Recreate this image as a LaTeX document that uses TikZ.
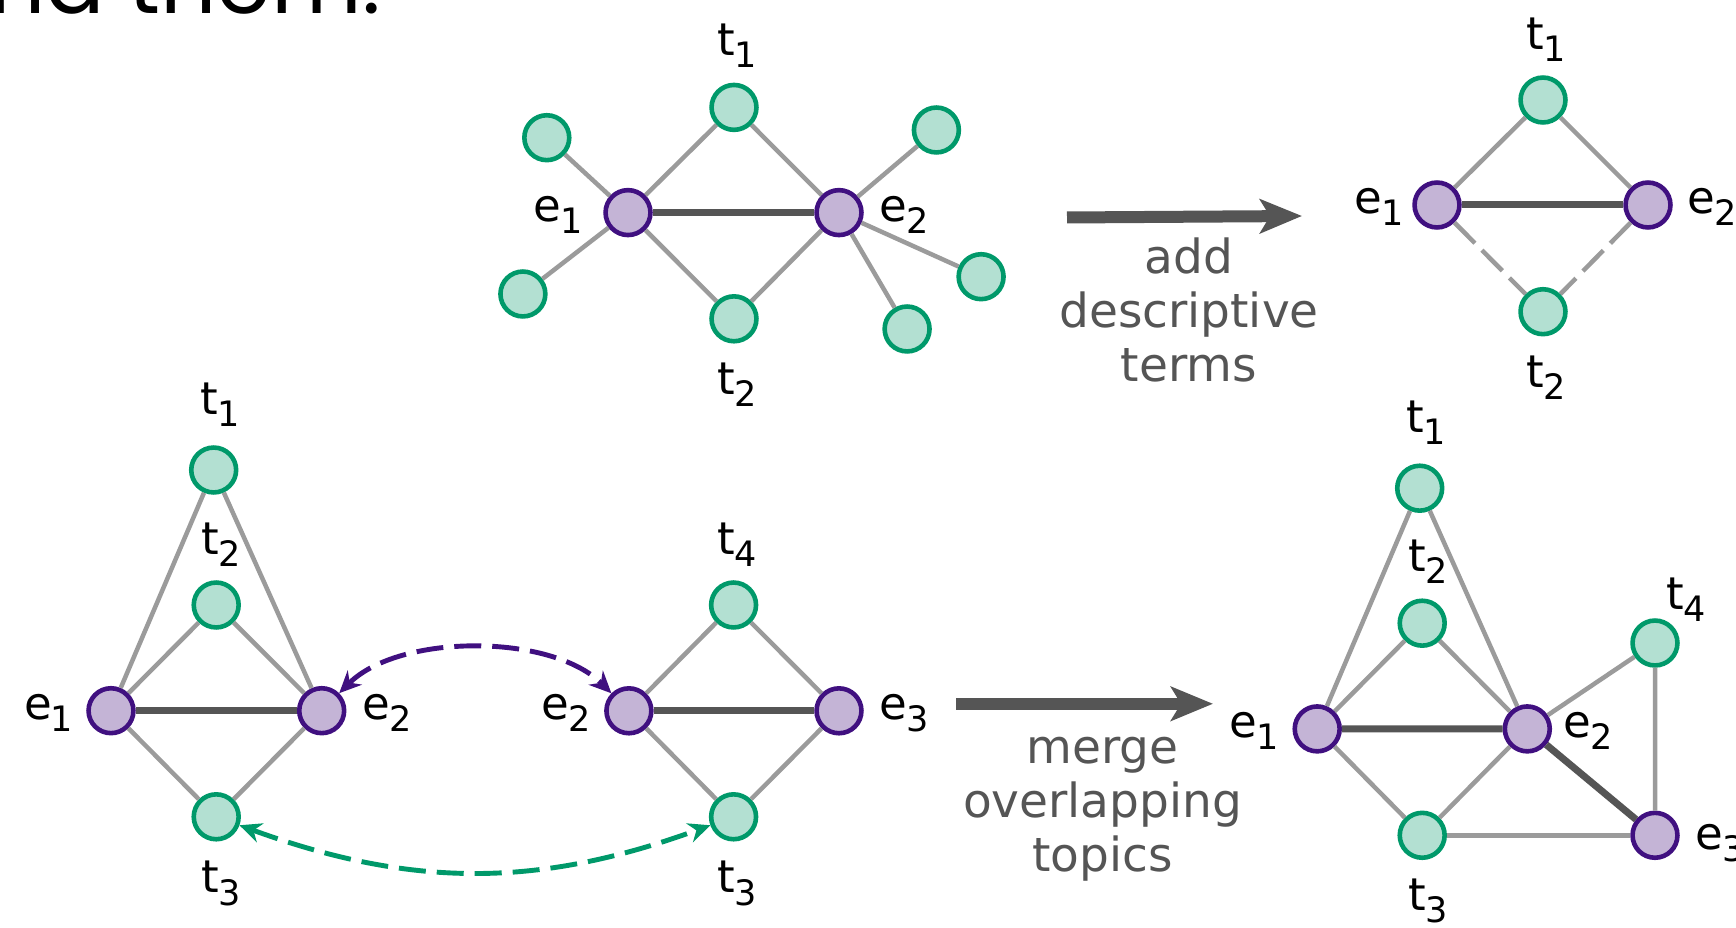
\documentclass[tikz,border=0pt]{standalone}
\usepackage{fontspec}
\setmainfont{DejaVu Sans}
\newfontfamily\slidefont{Poppins}
\usepackage{tikz}
\usetikzlibrary{arrows.meta, positioning}
\definecolor{termfill}{RGB}{179, 224, 210}
\definecolor{termline}{RGB}{0, 153, 106}
\definecolor{entfill}{RGB}{196, 180, 214}
\definecolor{entline}{RGB}{64, 16, 128}
\definecolor{edgegray}{RGB}{155, 155, 155}
\definecolor{edgedark}{RGB}{85, 85, 85}
\definecolor{captiongray}{RGB}{85, 85, 85}

% letter with a lowered index, e.g. t_1
\newcommand{\idx}[2]{#1\kern-0.5pt\raisebox{-6pt}{\fontsize{17.5}{17.5}\selectfont #2}}

\tikzset{
    term/.style={circle, draw=termline, fill=termfill, line width=2.3pt, minimum size=22.45pt, inner sep=0pt},
    entity/.style={term, draw=entline, fill=entfill},
    link/.style={draw=edgegray, line width=2.25pt},
    linkdash/.style={link, dash pattern=on 14.5pt off 5pt},
    strong/.style={draw=edgedark, line width=3.5pt},
    lbl/.style={anchor=base, inner sep=0pt, font=\fontsize{22.5}{22.5}\selectfont},
    caption/.style={anchor=base, align=center, inner sep=0pt, text=captiongray, font=\fontsize{23.5}{27}\selectfont},
    bigarrow/.style={draw=edgedark, line width=6pt, -{Stealth[length=21pt, width=17pt, inset=5pt]}},
    swap/.style={line width=2.45pt, dash pattern=on 13.5pt off 5.5pt, {Stealth[length=11pt, width=10pt]}-{Stealth[length=11pt, width=10pt]}}
}

\begin{document}
\begin{tikzpicture}[x=0.5pt, y=0.5pt]
    \useasboundingbox (0, 0) rectangle (1736, 927);
    \clip (0, 0) rectangle (1736, 927);

    % slide text running into the top edge
    \node[anchor=base east, inner sep=0pt, font=\slidefont\fontsize{44}{44}\selectfont] (heading) at (381, 913) {and them.};

    % Topic before adding terms
    \node[entity] (ae1) at (628, 714.4) {};
    \node[entity] (ae2) at (839, 714.4) {};
    \node[term] (at1) at (734, 819.6) {};
    \node[term] (at2) at (734, 608.2) {};
    \node[term] (aleaf1) at (546.8, 789.3) {};
    \node[term] (aleaf2) at (522.9, 633) {};
    \node[term] (aleaf3) at (936.4, 797) {};
    \node[term] (aleaf4) at (981.1, 650.3) {};
    \node[term] (aleaf5) at (907.1, 598) {};
    \draw[strong] (ae1) -- (ae2);
    \draw[link] (ae1) -- (at1) -- (ae2) -- (at2) -- (ae1);
    \foreach \n in {1,2} \draw[link] (ae1) -- (aleaf\n);
    \foreach \n in {3,4,5} \draw[link] (ae2) -- (aleaf\n);
    \node[lbl] (at1-l) at (737, 871) {\idx{t}{1}};
    \node[lbl] (at2-l) at (737, 532) {\idx{t}{2}};
    \node[lbl] (ae1-l) at (558, 705.3) {\idx{e}{1}};
    \node[lbl] (ae2-l) at (904, 705.3) {\idx{e}{2}};

    % Step 1
    \coordinate (add-s) at (1067, 709.5);
    \coordinate (add-e) at (1302, 711);
    \draw[bigarrow] (add-s) -- (add-e);
    \node[caption] (add-txt) at (1189, 545.5) {add\\descriptive\\terms};

    % Topic with descriptive terms
    \node[entity] (be1) at (1437, 722) {};
    \node[entity] (be2) at (1648, 722) {};
    \node[term] (bt1) at (1543, 827) {};
    \node[term] (bt2) at (1543, 615.3) {};
    \draw[strong] (be1) -- (be2);
    \draw[link] (be1) -- (bt1) -- (be2);
    \draw[linkdash] (be1) -- (bt2);
    \draw[linkdash] (be2) -- (bt2);
    \node[lbl] (bt1-l) at (1546, 877.7) {\idx{t}{1}};
    \node[lbl] (bt2-l) at (1546, 539) {\idx{t}{2}};
    \node[lbl] (be1-l) at (1379, 713.7) {\idx{e}{1}};
    \node[lbl] (be2-l) at (1712, 713.7) {\idx{e}{2}};

    % Two overlapping topics
    \node[entity] (ce1) at (111, 216.3) {};
    \node[entity] (ce2) at (321.7, 216.3) {};
    \node[term] (ct1) at (213.7, 457) {};
    \node[term] (ct2) at (216.2, 322) {};
    \node[term] (ct3) at (216.2, 110.2) {};
    \draw[strong] (ce1) -- (ce2);
    \draw[link] (ce1) -- (ct1) -- (ce2);
    \draw[link] (ce1) -- (ct2) -- (ce2);
    \draw[link] (ce1) -- (ct3) -- (ce2);
    \node[lbl] (ct1-l) at (220, 512) {\idx{t}{1}};
    \node[lbl] (ct2-l) at (221, 372.5) {\idx{t}{2}};
    \node[lbl] (ct3-l) at (221, 34) {\idx{t}{3}};
    \node[lbl] (ce1-l) at (48.5, 207) {\idx{e}{1}};
    \node[lbl] (ce2-l) at (387, 207) {\idx{e}{2}};

    \node[entity] (ee2) at (628.9, 216.2) {};
    \node[entity] (ee3) at (839, 216.2) {};
    \node[term] (et4) at (733.6, 322) {};
    \node[term] (et3) at (733.6, 110.2) {};
    \draw[strong] (ee2) -- (ee3);
    \draw[link] (ee2) -- (et4) -- (ee3);
    \draw[link] (ee2) -- (et3) -- (ee3);
    \node[lbl] (et4-l) at (737, 372.5) {\idx{t}{4}};
    \node[lbl] (et3-l) at (737, 34) {\idx{t}{3}};
    \node[lbl] (ee2-l) at (566, 207) {\idx{e}{2}};
    \node[lbl] (ee3-l) at (904, 207) {\idx{e}{3}};

    % shared nodes
    \draw[swap, entline] (ce2) to[out=45, in=135, looseness=0.8] (ee2);
    \draw[swap, termline] (ct3) to[out=-20, in=-160] (et3);

    % Step 2
    \coordinate (merge-s) at (956, 223.2);
    \coordinate (merge-e) at (1213, 223.2);
    \draw[bigarrow] (merge-s) -- (merge-e);
    \node[caption] (merge-txt) at (1102.5, 55) {merge\\overlapping\\topics};

    % Merged topic
    \node[entity] (de1) at (1317.2, 198.1) {};
    \node[entity] (de2) at (1527.3, 198.1) {};
    \node[entity] (de3) at (1655, 91.7) {};
    \node[term] (dt1) at (1419.7, 438.8) {};
    \node[term] (dt2) at (1422.2, 303.8) {};
    \node[term] (dt3) at (1422.2, 91.7) {};
    \node[term] (dt4) at (1655, 284) {};
    \draw[strong] (de1) -- (de2) -- (de3);
    \draw[link] (de1) -- (dt1) -- (de2);
    \draw[link] (de1) -- (dt2) -- (de2);
    \draw[link] (de1) -- (dt3) -- (de2);
    \draw[link] (dt3) -- (de3);
    \draw[link] (de2) -- (dt4) -- (de3);
    \node[lbl] (dt1-l) at (1426, 494.7) {\idx{t}{1}};
    \node[lbl] (dt2-l) at (1428, 355) {\idx{t}{2}};
    \node[lbl] (dt4-l) at (1686, 317) {\idx{t}{4}};
    \node[lbl] (dt3-l) at (1428, 17) {\idx{t}{3}};
    \node[lbl] (de1-l) at (1254, 189.4) {\idx{e}{1}};
    \node[lbl] (de2-l) at (1588, 189.4) {\idx{e}{2}};
    \node[lbl] (de3-l) at (1720, 77) {\idx{e}{3}};
\end{tikzpicture}
\end{document}
